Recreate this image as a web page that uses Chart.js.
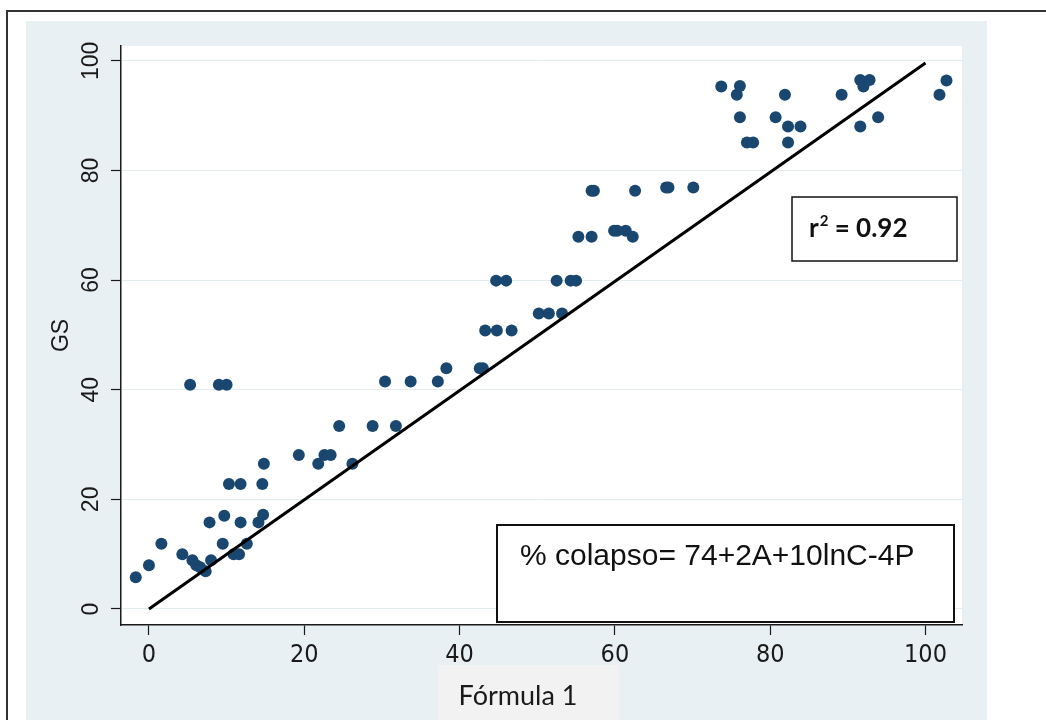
<!DOCTYPE html>
<html><head><meta charset="utf-8">
<script src="https://cdn.jsdelivr.net/npm/chart.js@4/dist/chart.umd.min.js"></script>
<style>html,body{margin:0;padding:0;background:#fff;}canvas{display:block}</style>
</head><body>
<canvas id="c" width="1046" height="720"></canvas>
<script>
// Data
const formulaX = [-1.7, 0.0, 1.6, 4.3, 5.6, 6.1, 6.6, 7.3, 8.0, 7.8, 9.5, 9.7, 10.9, 11.6, 12.6, 11.8, 14.1, 14.7, 10.3, 11.8, 14.6, 14.8, 5.3, 9.0, 10.0,
  19.3, 21.8, 22.6, 23.4, 26.2, 24.5, 28.8, 31.8, 30.4, 33.7, 37.2, 38.3, 42.6, 43.0, 43.3, 44.8, 46.7, 44.7, 46.0, 50.2, 51.5, 53.2, 52.5, 54.3, 55.0,
  55.3, 57.0, 59.9, 60.3, 61.4, 62.3, 57.0, 57.3, 62.6, 66.6, 66.9, 70.1,
  73.7, 75.7, 76.1, 76.1, 77.0, 77.8, 80.7, 81.9, 82.3, 82.3, 83.9, 89.2, 91.6, 92.0, 92.8, 91.6, 93.9, 101.8, 102.7];
const gsY = [5.8, 8.0, 11.9, 10.0, 8.9, 8.0, 7.6, 6.9, 8.9, 15.8, 11.9, 17.0, 10.0, 10.0, 11.9, 15.8, 15.8, 17.2, 22.8, 22.8, 22.8, 26.5, 40.9, 40.9, 40.9,
  28.1, 26.5, 28.1, 28.1, 26.5, 33.4, 33.4, 33.4, 41.5, 41.5, 41.5, 43.9, 43.9, 43.9, 50.8, 50.8, 50.8, 59.9, 59.9, 53.9, 53.9, 53.9, 59.9, 59.9, 59.9,
  67.9, 67.9, 69.0, 69.0, 69.0, 67.9, 76.3, 76.3, 76.3, 76.9, 76.9, 76.9,
  95.3, 93.8, 95.4, 89.7, 85.1, 85.1, 89.7, 93.8, 88.0, 85.1, 88.0, 93.8, 96.5, 95.3, 96.5, 88.0, 89.7, 93.8, 96.4];
const fitX = [0, 100];
const fitY = [0, 99.6];
const xTicks = [0, 20, 40, 60, 80, 100];
const yTicks = [0, 20, 40, 60, 80, 100];
const xTitle = 'Fórmula 1';
const yTitle = 'GS';
const r2Text = '0.92';
const formulaText = '% colapso= 74+2A+10lnC-4P';

const points = formulaX.map((x, i) => ({x: x, y: gsY[i]}));
const fitLine = fitX.map((x, i) => ({x: x, y: fitY[i]}));

const DARK = '#1a1a1a';
const NAVY = '#1a476f';
const PANEL = '#e8f0f3';

const background = {
  id: 'background',
  beforeDraw(chart) {
    const ctx = chart.ctx, a = chart.chartArea;
    ctx.save();
    ctx.fillStyle = '#ffffff';
    ctx.fillRect(0, 0, chart.width, chart.height);
    ctx.strokeStyle = '#333333';
    ctx.lineWidth = 2;
    ctx.strokeRect(7, 11, 1200, 900);
    ctx.fillStyle = PANEL;
    ctx.fillRect(26, 21, 961, 710);
    ctx.fillStyle = '#ffffff';
    ctx.fillRect(a.left, a.top, a.right - a.left, a.bottom - a.top);
    // x title box
    ctx.fillStyle = '#f2f2f2';
    ctx.fillRect(438, 665, 181, 60);
    ctx.fillStyle = DARK;
    ctx.font = '27px Lato, "Open Sans", sans-serif';
    ctx.textAlign = 'center';
    ctx.textBaseline = 'alphabetic';
    ctx.fillText(xTitle, 518, 705);
    ctx.restore();
  }
};

const notes = {
  id: 'notes',
  afterDatasetsDraw(chart) {
    const ctx = chart.ctx;
    ctx.save();
    // r^2 box
    ctx.fillStyle = '#ffffff';
    ctx.fillRect(792, 197, 165, 64);
    ctx.strokeStyle = '#111';
    ctx.lineWidth = 1.5;
    ctx.strokeRect(792, 197, 165, 64);
    ctx.fillStyle = '#111';
    ctx.textBaseline = 'alphabetic';
    ctx.textAlign = 'left';
    let x = 809;
    ctx.font = 'bold 26px Lato, "Open Sans", sans-serif';
    ctx.fillText('r', x, 237);
    x += ctx.measureText('r').width + 1;
    ctx.font = 'bold 15px Lato, "Open Sans", sans-serif';
    ctx.fillText('2', x, 226);
    x += ctx.measureText('2').width;
    ctx.font = 'bold 26px Lato, "Open Sans", sans-serif';
    ctx.fillText(' = ' + r2Text, x, 237);
    // formula box
    ctx.fillStyle = '#ffffff';
    ctx.fillRect(497, 525, 457, 97);
    ctx.strokeStyle = '#111';
    ctx.lineWidth = 2;
    ctx.strokeRect(497, 525, 457, 97);
    ctx.fillStyle = '#111';
    ctx.font = '30px "Liberation Sans", Arial, sans-serif';
    ctx.fillText(formulaText, 520, 565);
    ctx.restore();
  }
};

new Chart(document.getElementById('c'), {
  data: {
    datasets: [
      { type: 'line', data: fitLine, borderColor: '#000000', borderWidth: 3, pointRadius: 0, fill: false, tension: 0 },
      { type: 'scatter', data: points, backgroundColor: NAVY, borderColor: NAVY, borderWidth: 0, pointRadius: 6 }
    ]
  },
  options: {
    responsive: false,
    animation: false,
    devicePixelRatio: 1,
    layout: { padding: { left: 0, top: 46, right: 84, bottom: 0 } },
    plugins: { legend: { display: false }, tooltip: { enabled: false } },
    scales: {
      x: {
        type: 'linear', position: 'bottom', min: -3.6, max: 104.7,
        afterBuildTicks: s => { s.ticks = xTicks.map(v => ({value: v})); },
        afterFit: s => { s.height = 95; },
        ticks: { padding: 5, autoSkip: false, maxRotation: 0, color: DARK,
          font: { family: '"Liberation Sans Narrow", "Arial Narrow", "DejaVu Sans Condensed", sans-serif', size: 25 } },
        grid: { drawOnChartArea: false, tickLength: 10, tickColor: DARK, tickWidth: 1.2 },
        border: { color: DARK, width: 1.5 }
      },
      y: {
        type: 'linear', position: 'left', min: -2.92, max: 102.7,
        afterBuildTicks: s => { s.ticks = yTicks.map(v => ({value: v})); },
        afterFit: s => { s.width = 121; },
        ticks: { minRotation: 90, maxRotation: 90, crossAlign: 'center', padding: 0, autoSkip: false, color: DARK,
          font: { family: '"Liberation Sans", Arial, sans-serif', size: 23 } },
        grid: { color: '#e3ecef', lineWidth: 1, tickLength: 10, tickColor: DARK, tickWidth: 1.2 },
        border: { color: DARK, width: 1.5 },
        title: { display: true, text: yTitle, color: DARK, padding: { top: 48, bottom: 0 },
          font: { family: '"Liberation Sans", Arial, sans-serif', size: 23 } }
      }
    }
  },
  plugins: [background, notes]
});
</script>
</body></html>
